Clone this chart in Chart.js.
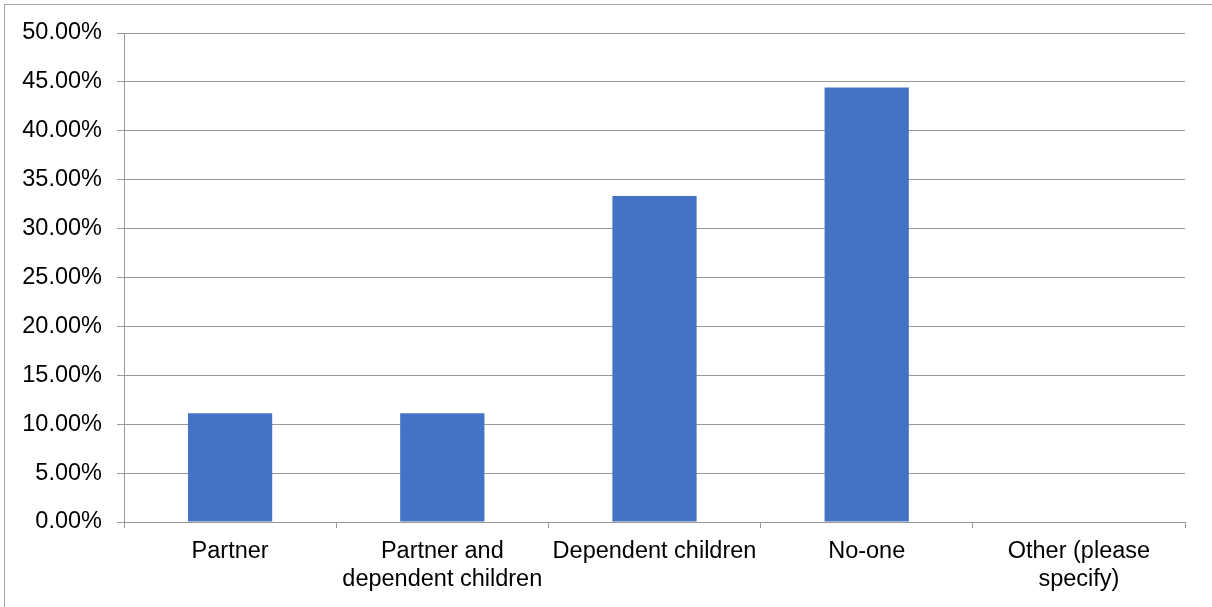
<!DOCTYPE html>
<html>
<head>
<meta charset="utf-8">
<script src="https://cdn.jsdelivr.net/npm/chart.js@4"></script>
<style>
  html, body { margin: 0; padding: 0; background: #fff; overflow: hidden; }
  #moldura {
    position: absolute; left: 4px; top: 4px;
    width: 1300px; height: 700px;
    border: 1px solid #a6a6a6;
  }
  #grafico { position: absolute; left: 0; top: 0; }
</style>
</head>
<body>
<div id="moldura"></div>
<canvas id="grafico" width="1212" height="607"></canvas>
<script>
// dados do gráfico
const categorias = [
  "Partner",
  ["Partner and", "dependent children"],
  "Dependent children",
  "No-one",
  ["Other (please", "specify)"]
];
const percentuais = [11.11, 11.11, 33.33, 44.44, 0];
const ticksY = [0, 5, 10, 15, 20, 25, 30, 35, 40, 45, 50];

const fonte = { family: "'Liberation Sans', Arial, sans-serif", size: 23.5, lineHeight: 1.2 };
const cinza = "#999999";

const ctx = document.getElementById("grafico").getContext("2d");

new Chart(ctx, {
  type: "bar",
  data: {
    labels: categorias,
    datasets: [{
      data: percentuais,
      backgroundColor: "#4472C4",
      borderWidth: 0,
      categoryPercentage: 1,
      barPercentage: 0.397
    }]
  },
  options: {
    responsive: false,
    animation: false,
    layout: { padding: { top: 33, right: 27, left: 0, bottom: 0 } },
    plugins: { legend: { display: false }, tooltip: { enabled: false } },
    scales: {
      x: {
        offset: true,
        grid: {
          offset: true,
          drawOnChartArea: false,
          drawTicks: true,
          tickLength: 6,
          color: cinza
        },
        border: { display: true, color: cinza },
        ticks: {
          color: "#000",
          font: fonte,
          padding: 9,
          maxRotation: 0,
          autoSkip: false
        },
        afterFit: (eixo) => { eixo.height = 85; }
      },
      y: {
        min: 0,
        max: 50,
        afterBuildTicks: (eixo) => { eixo.ticks = ticksY.map(v => ({ value: v })); },
        grid: { color: cinza, tickLength: 7, drawTicks: true },
        border: { display: true, color: cinza },
        ticks: {
          color: "#000",
          font: fonte,
          padding: 15,
          callback: (v) => Number(v).toFixed(2) + "%"
        },
        afterFit: (eixo) => { eixo.width = 124; }
      }
    }
  }
});
</script>
</body>
</html>
